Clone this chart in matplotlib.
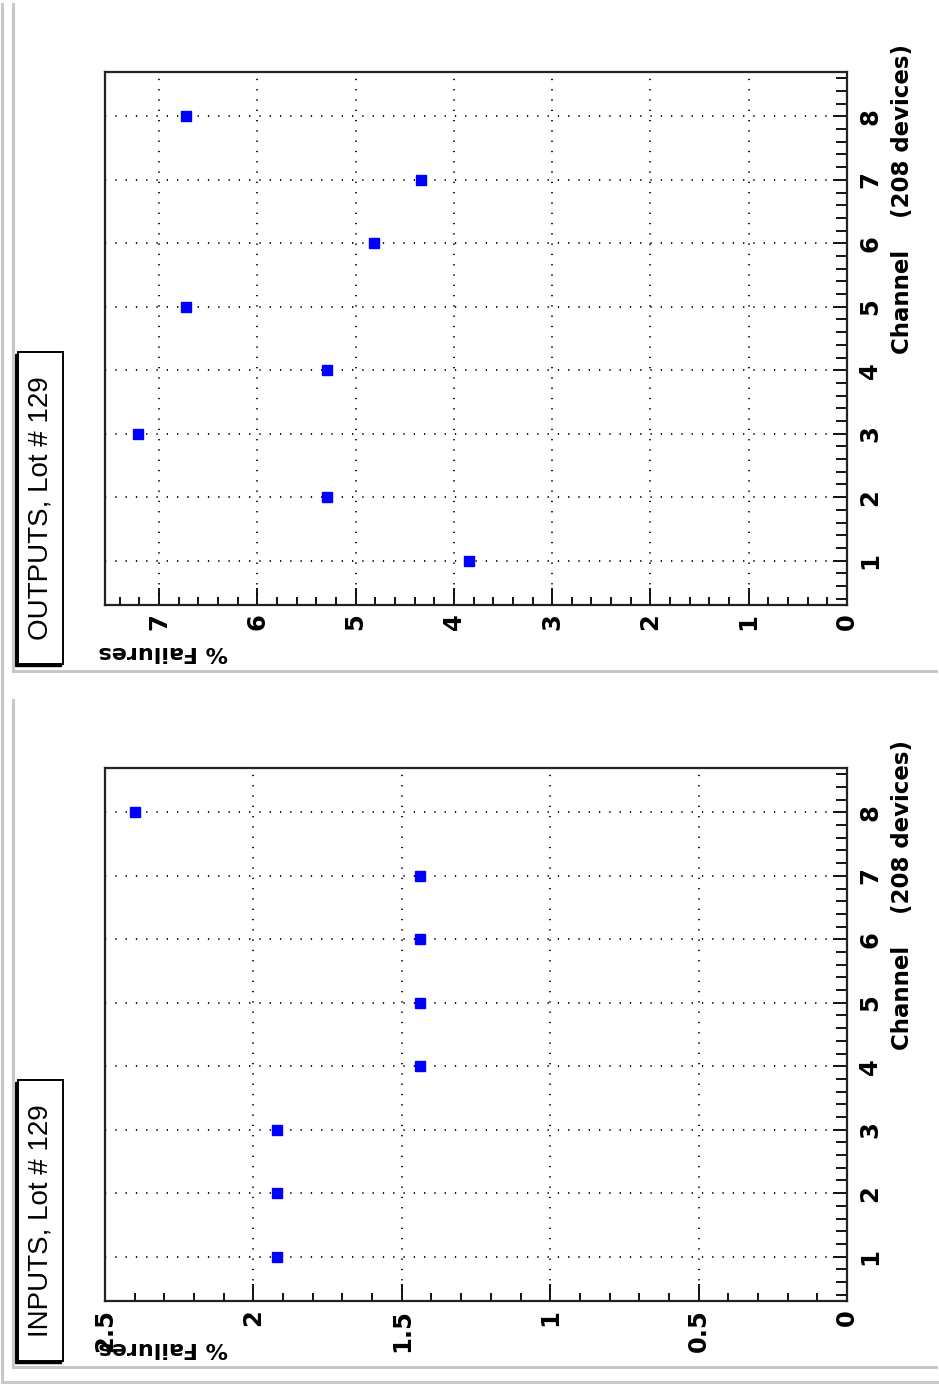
import numpy as np
import matplotlib
matplotlib.use("Agg")
import matplotlib.pyplot as plt
from matplotlib.ticker import MultipleLocator, FormatStrFormatter
from matplotlib.patches import Rectangle
from matplotlib.lines import Line2D

# data (% failures per channel, 208 devices)
channels = [1, 2, 3, 4, 5, 6, 7, 8]
outputs_fail = [3.85, 5.29, 7.21, 5.29, 6.73, 4.81, 4.33, 6.73]
inputs_fail = [1.92, 1.92, 1.92, 1.44, 1.44, 1.44, 1.44, 2.40]
titles = ["OUTPUTS, Lot # 129", "INPUTS, Lot # 129"]
axis_title = "Channel    (208 devices)"
value_title = "% Failures"

W, H = 939, 1388
fig = plt.figure(figsize=(W / 100, H / 100), dpi=100)
fig.patch.set_facecolor("white")

tick_font = dict(family=["DejaVu Sans"], weight="bold")


def fx(px):
    return px / W


def fy(py):
    return 1 - py / H


def grey_line(x0, y0, x1, y1):
    fig.add_artist(Line2D([fx(x0), fx(x1)], [fy(y0), fy(y1)], color="#c8c8c8",
                          linewidth=2.2, transform=fig.transFigure))


# canvas and pad borders
grey_line(2, 4, 2, 1382)
grey_line(2, 1382, 937, 1382)
grey_line(13, 4, 13, 671)
grey_line(13, 671, 936, 671)
grey_line(13, 700, 13, 1367)
grey_line(13, 1367, 936, 1367)


def make_panel(top_px, vals, vmax, major, minor, title, box_top, box_bot):
    bot_px = top_px + 533
    ax = fig.add_axes([fx(105), fy(bot_px), fx(847) - fx(105), (bot_px - top_px) / H])
    ax.plot(vals, channels, "s", color="#0000ff", markersize=7, linestyle="none")
    ax.set_xlim(vmax, 0)
    ax.set_ylim(0.3, 8.7)
    ax.xaxis.set_major_locator(MultipleLocator(major))
    ax.xaxis.set_minor_locator(MultipleLocator(minor))
    ax.xaxis.set_major_formatter(FormatStrFormatter("%g"))
    ax.yaxis.set_major_locator(MultipleLocator(1))
    ax.yaxis.set_minor_locator(MultipleLocator(0.2))
    ax.set_yticks(channels)
    ax.yaxis.tick_right()
    ax.tick_params(axis="x", which="major", direction="in", length=12, width=1.3,
                   top=False, bottom=True, pad=6, labelrotation=90)
    ax.tick_params(axis="x", which="minor", direction="in", length=6, width=1.3,
                   top=False, bottom=True)
    ax.tick_params(axis="y", which="major", direction="in", length=10, width=1.3,
                   left=False, right=True, pad=8, labelrotation=90)
    ax.tick_params(axis="y", which="minor", direction="in", length=8, width=1.3,
                   left=False, right=True)
    for lab in ax.get_xticklabels() + ax.get_yticklabels():
        lab.set_fontfamily("DejaVu Sans")
        lab.set_fontweight("bold")
        lab.set_fontsize(17.5)
    for lab in ax.get_xticklabels():
        lab.set_verticalalignment("top")
    for lab in ax.get_yticklabels():
        lab.set_verticalalignment("center")
    ax.grid(True, which="major", color="black", linewidth=1.3,
            linestyle=(0, (0.7, 5.0)))
    for s in ax.spines.values():
        s.set_linewidth(1.6)
        s.set_color("#222222")

    # value axis title (upside down) and channel axis title
    fig.text(fx(228), fy(bot_px + 47), value_title, rotation=180, ha="right",
             va="center", fontsize=16, **tick_font)
    fig.text(fx(903), fy(top_px - 28), axis_title, rotation=90, ha="center",
             va="top", fontsize=16.5, **tick_font)

    # title box with shadow
    fig.add_artist(Rectangle((fx(15), fy(box_bot + 2)), fx(63) - fx(17),
                             (box_bot - box_top) / H, transform=fig.transFigure,
                             facecolor="black", edgecolor="black"))
    fig.add_artist(Rectangle((fx(18), fy(box_bot)), fx(63) - fx(18),
                             (box_bot - box_top) / H, transform=fig.transFigure,
                             facecolor="white", edgecolor="black", linewidth=1.4))
    fig.text(fx(41), fy((box_top + box_bot) / 2), title, rotation=90,
             ha="center", va="center", fontsize=20, family=["Liberation Sans"])
    return ax


make_panel(72, outputs_fail, 7.55, 1, 0.2, titles[0], 352, 664)
make_panel(768, inputs_fail, 2.5, 0.5, 0.1, titles[1], 1080, 1361)

fig.savefig("out.png", dpi=100)
